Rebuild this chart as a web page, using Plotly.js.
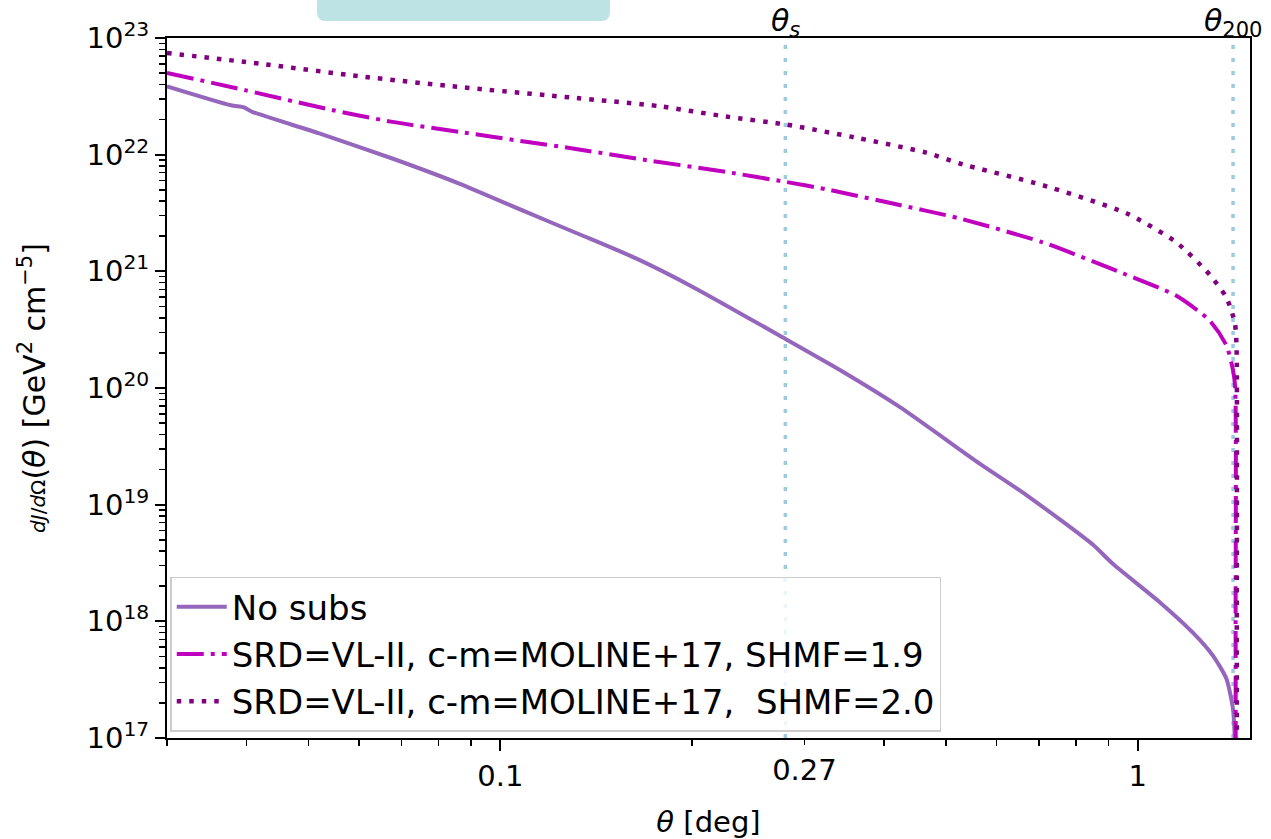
<!DOCTYPE html>
<html>
<head>
<meta charset="utf-8">
<script src="https://cdn.plot.ly/plotly-3.0.1.min.js"></script>
<style>html,body{margin:0;padding:0;background:#fff;}#chart{width:1271px;height:839px;}</style>
</head>
<body>
<div id="chart"></div>
<script>
// ---- data ----
const thetaNoSubs = [0.0300, 0.0378, 0.0396, 0.0409, 0.0520, 0.0677, 0.0862, 0.1097, 0.1330, 0.1633, 0.2004, 0.2809, 0.3446, 0.4231, 0.5649, 0.6689, 0.8507, 0.9147, 1.0827, 1.2214, 1.3127, 1.3779, 1.4112, 1.4200, 1.4230];
const jNoSubs     = [3.85e22, 2.65e22, 2.54e22, 2.32e22, 1.52e22, 9.27e21, 5.65e21, 3.23e21, 2.08e21, 1.29e21, 7.35e20, 2.61e20, 1.38e20, 6.89e19, 2.25e19, 1.21e19, 4.53e18, 3.10e18, 1.46e18, 7.96e17, 5.06e17, 3.21e17, 1.75e17, 9.5e16, 5.0e16];

const thetaShmf19 = [0.0300, 0.0399, 0.0532, 0.0677, 0.0862, 0.1097, 0.1299, 0.1673, 0.2261, 0.2809, 0.3245, 0.4130, 0.5256, 0.7098, 0.9600, 1.150, 1.297, 1.3779, 1.4112, 1.4220, 1.4240, 1.4250];
const jShmf19     = [5.01e22, 3.56e22, 2.48e22, 1.91e22, 1.57e22, 1.29e22, 1.13e22, 9.08e21, 7.11e21, 5.83e21, 5.05e21, 3.81e21, 2.84e21, 1.77e21, 9.35e20, 6.17e20, 3.78e20, 2.31e20, 1.41e20, 1.0e20, 1.0e18, 1.0e16];

const thetaShmf20 = [0.0300, 0.0419, 0.0601, 0.0862, 0.1315, 0.1777, 0.2261, 0.2809, 0.3661, 0.4660, 0.5256, 0.7098, 0.9600, 1.150, 1.297, 1.3779, 1.4200, 1.4286, 1.4300, 1.4310];
const jShmf20     = [7.43e22, 6.03e22, 4.70e22, 3.80e22, 3.06e22, 2.60e22, 2.12e22, 1.81e22, 1.38e22, 1.04e22, 8.40e21, 5.47e21, 3.15e21, 1.77e21, 9.35e20, 5.94e20, 3.63e20, 2.31e20, 1.0e18, 1.0e16];

const seriesNames = ["No subs", "SRD=VL-II, c-m=MOLINE+17, SHMF=1.9", "SRD=VL-II, c-m=MOLINE+17, \u00A0SHMF=2.0"];

const thetaS = 0.280;     // scale radius angle
const theta200 = 1.411;   // virial angle

const xRange = [0.03, 1.5];
const yRange = [1e17, 1e23];
const xMajorTicks = [0.1, 1];
const xMajorText = ["0.1", "1"];
const xExtraTicks = [0.3];
const xExtraText = ["0.27"];
const yMajorExp = [17, 18, 19, 20, 21, 22, 23];

// ---- helpers for tick positions ----
function logMinor(lo, hi) {
  const out = [];
  for (let e = Math.floor(Math.log10(lo)); e <= Math.ceil(Math.log10(hi)); e++) {
    for (let k = 2; k <= 9; k++) {
      const v = k * Math.pow(10, e);
      if (v >= lo && v <= hi) out.push(v);
    }
  }
  return out;
}
const xMinor = logMinor(xRange[0], xRange[1]).filter(v => !xExtraTicks.some(t => Math.abs(t - v) < 1e-9));
const yMinor = logMinor(yRange[0], yRange[1]);
const yMajorVals = yMajorExp.map(e => Math.pow(10, e));
const yMajorText = yMajorExp.map(e => "10<sup>" + e + "</sup>");

const FONT = "DejaVu Sans, Liberation Sans, sans-serif";

const traces = [
  {x: thetaNoSubs, y: jNoSubs, name: seriesNames[0], mode: "lines", type: "scatter",
   line: {color: "#9467bd", width: 4, shape: "spline", smoothing: 0.6}},
  {x: thetaShmf19, y: jShmf19, name: seriesNames[1], mode: "lines", type: "scatter",
   line: {color: "#bf00bf", width: 4, dash: "27px,7px,4px,7px", shape: "spline", smoothing: 0.6}},
  {x: thetaShmf20, y: jShmf20, name: seriesNames[2], mode: "lines", type: "scatter",
   line: {color: "#800080", width: 4.5, dash: "4.5px,8px", shape: "spline", smoothing: 0.6}},
  // empty trace so that the secondary x axis (carrying the 0.27 label) is drawn
  {x: [], y: [], xaxis: "x2", yaxis: "y", mode: "lines", showlegend: false, hoverinfo: "skip"}
];

const L = 167, R = 1250, T = 38, B = 738;
const W = R - L, H = B - T;
function px(xp) { return (xp - L) / W; }
function py(yp) { return (B - yp) / H; }
// rounded teal box at the top (decoration)
const bx0 = px(317), bx1 = px(610), byb = py(21), byt = py(-12);
const rx = 9 / W, ry = 9 / H;
const boxPath = `M ${bx0},${byt} L ${bx0},${byb + ry} Q ${bx0},${byb} ${bx0 + rx},${byb} L ${bx1 - rx},${byb} Q ${bx1},${byb} ${bx1},${byb + ry} L ${bx1},${byt} Z`;

const layout = {
  width: 1271, height: 839,
  margin: {l: L, r: 1271 - R, t: T, b: 839 - B},
  paper_bgcolor: "#ffffff", plot_bgcolor: "#ffffff",
  font: {family: FONT, size: 29, color: "#000"},
  showlegend: true,
  legend: {x: 0.003, y: 0.009, xanchor: "left", yanchor: "bottom",
           bgcolor: "rgba(255,255,255,0.8)", bordercolor: "#cccccc", borderwidth: 1.5,
           font: {family: FONT, size: 34, color: "#000"}, tracegroupgap: 0, itemwidth: 50},
  xaxis: {
    type: "log", range: xRange.map(Math.log10), showgrid: false, zeroline: false,
    showline: true, mirror: true, linecolor: "#000", linewidth: 2,
    tickmode: "array", tickvals: xMajorTicks, ticktext: xMajorText,
    ticks: "outside", ticklen: 11, tickwidth: 2, tickcolor: "#000",
    tickfont: {family: FONT, size: 29, color: "#000"},
    minor: {tickmode: "array", tickvals: xMinor, ticks: "outside", ticklen: 6, tickwidth: 1.5, tickcolor: "#000", showgrid: false},
    title: {text: "<i>θ</i> [deg]", font: {family: FONT, size: 29, color: "#000"}, standoff: 22}
  },
  xaxis2: {
    type: "log", range: xRange.map(Math.log10), overlaying: "x", anchor: "y", side: "bottom",
    showgrid: false, zeroline: false, showline: false,
    tickmode: "array", tickvals: xExtraTicks, ticktext: xExtraText,
    ticks: "outside", ticklen: 6, tickwidth: 1.5, tickcolor: "#000",
    tickfont: {family: FONT, size: 29, color: "#000"}
  },
  yaxis: {
    type: "log", range: yRange.map(Math.log10), showgrid: false, zeroline: false,
    showline: true, mirror: true, linecolor: "#000", linewidth: 2,
    tickmode: "array", tickvals: yMajorVals, ticktext: yMajorText,
    ticks: "outside", ticklen: 10, tickwidth: 2, tickcolor: "#000",
    tickfont: {family: FONT, size: 29, color: "#000"},
    minor: {tickmode: "array", tickvals: yMinor, ticks: "outside", ticklen: 6, tickwidth: 1.5, tickcolor: "#000", showgrid: false},
    title: {text: '<span style="font-size:20px"><i>dJ</i>/<i>d</i>Ω</span>(<i>θ</i>) [GeV<sup>2</sup> cm<sup>−5</sup>]',
            font: {family: FONT, size: 30, color: "#000"}, standoff: 32}
  },
  shapes: [
    {type: "line", xref: "x", yref: "paper", x0: thetaS, x1: thetaS, y0: 0, y1: 1, layer: "below",
     line: {color: "#9ecae1", width: 3.5, dash: "4px,9px"}},
    {type: "line", xref: "x", yref: "paper", x0: theta200, x1: theta200, y0: 0, y1: 1, layer: "below",
     line: {color: "#9ecae1", width: 3.5, dash: "4px,9px"}},
    {type: "path", xref: "paper", yref: "paper", path: boxPath, fillcolor: "#bde3e5", line: {width: 0}, layer: "above"}
  ],
  annotations: [
    {xref: "x", yref: "paper", x: Math.log10(thetaS), y: 1, yanchor: "bottom", xanchor: "center", showarrow: false,
     text: "<i>θ</i><sub><i>s</i></sub>", font: {family: FONT, size: 30, color: "#000"}, yshift: -6},
    {xref: "x", yref: "paper", x: Math.log10(theta200), y: 1, yanchor: "bottom", xanchor: "center", showarrow: false,
     text: "<i>θ</i><sub>200</sub>", font: {family: FONT, size: 30, color: "#000"}, yshift: -6}
  ]
};

Plotly.newPlot("chart", traces, layout, {displayModeBar: false, staticPlot: true});
</script>
</body>
</html>
